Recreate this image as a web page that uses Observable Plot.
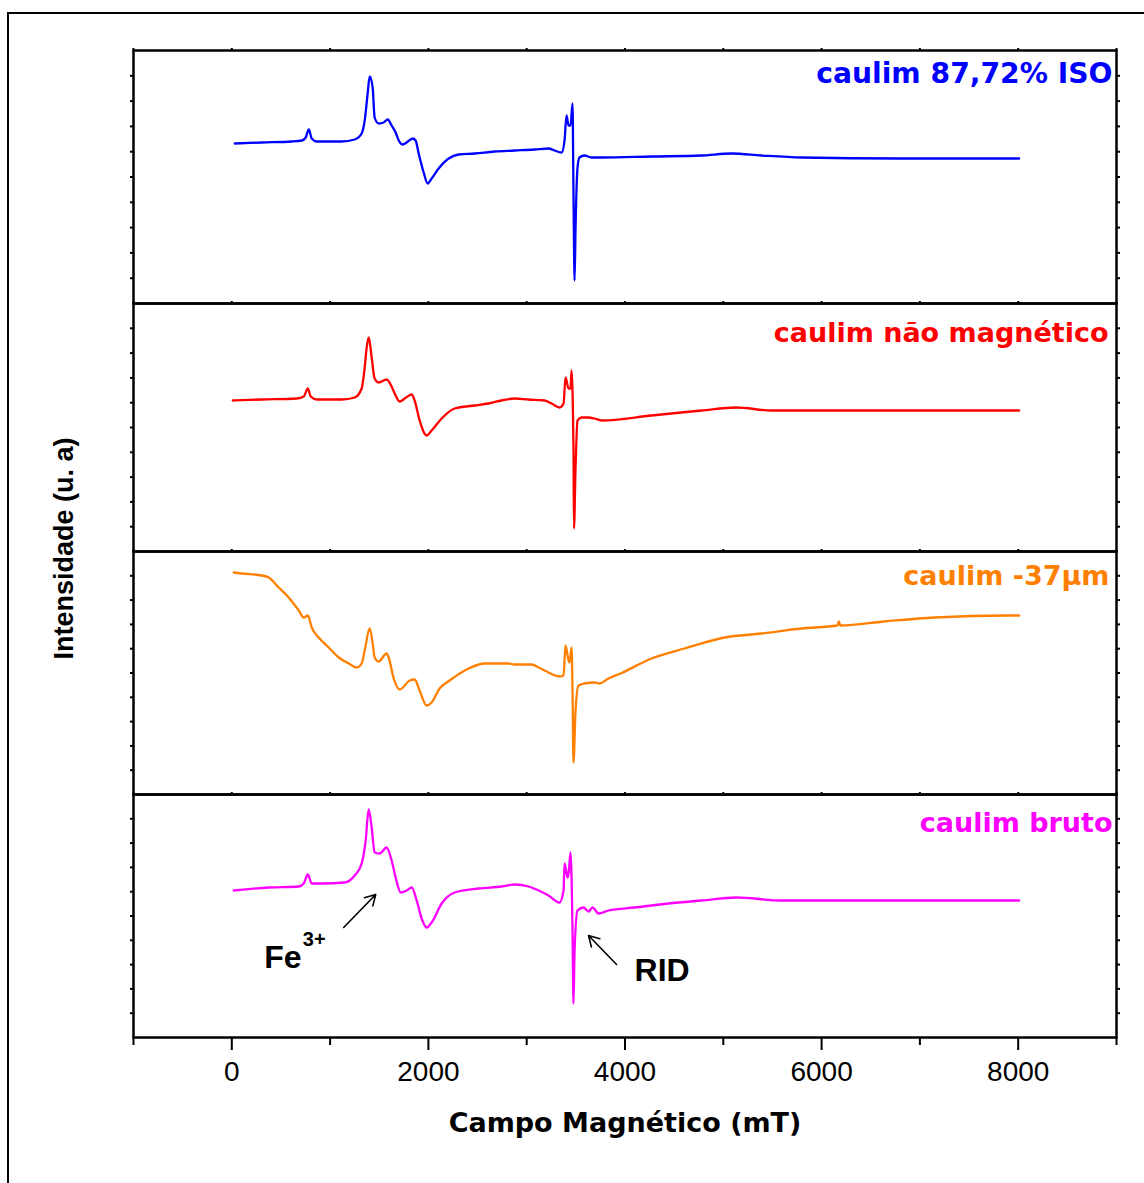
<!DOCTYPE html>
<html><head><meta charset="utf-8">
<script src="https://cdn.jsdelivr.net/npm/d3@7"></script>
<script src="https://cdn.jsdelivr.net/npm/@observablehq/plot@0.6"></script>
<style>
html,body{margin:0;padding:0;background:#fff;overflow:hidden}
#wrap{position:relative;width:1144px;height:1183px;overflow:hidden;background:#fff}
#outer{position:absolute;left:7px;top:12px;width:1400px;height:1400px;border-top:2.5px solid #000;border-left:2.5px solid #000;box-sizing:border-box}
#wrap svg{position:absolute;left:0}
</style></head><body><div id="wrap"><div id="outer"></div></div>
<script>
// Campo magnético (mT) vs intensidade (u. a.)
const seriesNames = ["caulim 87,72% ISO", "caulim não magnético", "caulim -37μm", "caulim bruto"];
const seriesColors = ["#0000ff", "#ff0000", "#ff8000", "#ff00ff"];

const isoData = [[30,160],[305,161],[610,162],[712,163],[752,166],[783,174],[813,165],[864,162],[1118,162],[1250,164],[1321,170],[1352,183],[1382,210],[1403,227],[1433,216],[1453,186],[1494,180],[1545,181],[1586,184],[1626,178],[1667,171],[1698,163],[1738,159],[1779,161],[1840,165],[1870,163],[1901,150],[1952,131],[1992,120],[2033,125],[2104,135],[2206,145],[2307,149],[2470,150],[2673,152],[2877,153],[3080,154],[3222,155],[3283,153],[3355,151],[3385,163],[3405,188],[3426,178],[3446,178],[3466,200],[3476,110],[3487,23],[3497,76],[3517,136],[3537,146],[3588,148],[3660,146],[3761,146],[4270,147],[4778,148],[5083,150],[5388,148],[5794,146],[6811,145],[8010,145]];

const naoMagData = [[10,151],[305,152],[661,153],[732,155],[773,163],[803,155],[864,152],[1118,152],[1250,154],[1321,163],[1352,184],[1372,204],[1393,214],[1423,194],[1453,173],[1494,169],[1575,172],[1626,165],[1657,158],[1708,150],[1759,153],[1830,157],[1860,151],[1911,131],[1982,116],[2033,121],[2135,133],[2267,143],[2470,146],[2612,148],[2745,151],[2877,153],[3019,152],[3182,151],[3253,148],[3334,144],[3375,148],[3395,174],[3426,163],[3446,163],[3456,181],[3476,101],[3481,23],[3497,84],[3517,131],[3558,134],[3629,134],[3690,133],[3761,131],[4270,136],[4778,141],[5134,144],[5489,141],[6811,141],[8010,141]];

const menos37Data = [[20,222],[102,221],[305,219],[376,217],[478,207],[579,197],[681,184],[732,177],[773,179],[813,167],[884,157],[986,147],[1088,137],[1189,131],[1271,127],[1321,131],[1352,144],[1403,166],[1433,151],[1453,137],[1494,133],[1575,141],[1596,137],[1647,116],[1708,105],[1810,114],[1860,115],[1911,104],[1982,89],[2033,92],[2114,106],[2216,114],[2389,125],[2572,131],[2816,131],[2877,130],[3050,130],[3121,127],[3182,124],[3334,118],[3375,119],[3395,149],[3426,134],[3436,132],[3456,147],[3466,104],[3476,32],[3497,84],[3527,109],[3588,111],[3690,112],[3741,111],[3832,116],[3954,121],[4270,136],[4605,146],[5012,157],[5388,161],[5794,166],[6160,169],[6175,173],[6190,169],[6639,173],[7150,177],[7899,179],[8010,179]];

const brutoData = [[20,147],[376,150],[681,151],[732,154],[773,163],[813,154],[915,154],[1149,155],[1250,162],[1321,174],[1362,197],[1392,228],[1423,210],[1453,185],[1504,184],[1575,190],[1626,177],[1667,160],[1718,145],[1779,147],[1830,150],[1881,137],[1931,119],[1982,110],[2033,115],[2135,134],[2267,145],[2511,149],[2745,151],[2877,153],[3019,151],[3121,147],[3222,142],[3334,135],[3375,147],[3385,174],[3416,160],[3426,164],[3446,185],[3466,107],[3476,34],[3487,87],[3517,127],[3578,130],[3629,126],[3670,130],[3731,124],[3832,127],[4097,130],[4442,134],[4778,137],[5134,140],[5591,137],[6811,137],[8010,137]];

const allSeries = [isoData, naoMagData, menos37Data, brutoData];

const xDomain = [-1000, 9000];
const xMajorTicks = [0, 2000, 4000, 6000, 8000];
const xMinorTicks = [-1000, 1000, 3000, 5000, 7000, 9000];
const xAllTicks = [-1000, 0, 1000, 2000, 3000, 4000, 5000, 6000, 7000, 8000, 9000];
const yDomainMax = [253, 248, 243, 243];

const xLabel = "Campo Magnético (mT)";
const yLabel = "Intensidade (u. a)";

// anotações no painel "caulim bruto"
const arrows = [
  {x1: 1138, y1: 110, x2: 1464, y2: 143},
  {x1: 3914, y1: 73, x2: 3629, y2: 102}
];
const notes = [
  {x: 330, y: 70, text: "Fe", size: 32},
  {x: 722, y: 92, text: "3+", size: 20},
  {x: 4097, y: 57, text: "RID", size: 32}
];

// layout
const W = 1144, L = 133, R = 1116;
const panelTop = [50, 303, 551, 794];
const pad = 6;
const labelDy = [32, 38, 33, 37];
const labelDx = [-4, -8, -7, -4];
const labelSize = [28.2, 27, 27, 27];

const wrap = document.getElementById("wrap");

allSeries.forEach((data, i) => {
  const last = i === allSeries.length - 1;
  const H = yDomainMax[i];
  const mb = last ? (1183 - 1037) : pad;
  const yTicks = d3.range(1, 10).map(k => k * H / 10);
  const marks = [
    Plot.line(data, {x: d => d[0], y: d => d[1], stroke: seriesColors[i], strokeWidth: 2.3, strokeLinejoin: "round", curve: "monotone-x"}),
    Plot.axisY({anchor: "left", ticks: yTicks, tickSize: 3, strokeWidth: 2, tickFormat: () => "", label: null}),
    Plot.axisY({anchor: "right", ticks: yTicks, tickSize: 3, strokeWidth: 2, tickFormat: () => "", label: null}),
    Plot.axisX({anchor: "top", ticks: xAllTicks, tickSize: 3, strokeWidth: 2, tickFormat: () => "", label: null}),
    Plot.frame({stroke: "black", strokeWidth: 2.5}),
    Plot.text([seriesNames[i]], {text: d => d, frameAnchor: "top-right", dx: labelDx[i], dy: labelDy[i], lineAnchor: "bottom", textAnchor: "end", fill: seriesColors[i], fontSize: labelSize[i], fontWeight: "bold", fontFamily: "DejaVu Sans"})
  ];
  if (i === 2) {
    marks.push(Plot.text([yLabel], {text: d => d, frameAnchor: "top-left", dx: 64 - L, dy: -3, rotate: -90, textAnchor: "middle", lineAnchor: "middle", fontSize: 27, fontWeight: "bold", fontFamily: "Liberation Sans", fill: "black"}));
  }
  if (last) {
    marks.push(
      Plot.axisX({anchor: "bottom", ticks: xMajorTicks, tickSize: 13, tickPadding: 11, strokeWidth: 2, fontSize: 28, tickFormat: d => String(d), label: null}),
      Plot.axisX({anchor: "bottom", ticks: xMinorTicks, tickSize: 8, strokeWidth: 2, tickFormat: () => "", label: null}),
      Plot.text([xLabel], {text: d => d, frameAnchor: "bottom", dy: 86, lineAnchor: "middle", fontSize: 27, fontWeight: "bold", fontFamily: "DejaVu Sans", fill: "black"}),
      Plot.arrow(arrows, {x1: "x1", y1: "y1", x2: "x2", y2: "y2", stroke: "black", strokeWidth: 1.6, headLength: 11, bend: 0}),
      Plot.text(notes, {x: "x", y: "y", text: "text", fontSize: d => d.size, textAnchor: "start", lineAnchor: "bottom", fontWeight: "bold", fontFamily: "Liberation Sans", fill: "black"})
    );
  }
  const svg = Plot.plot({
    width: W,
    height: H + pad + mb,
    marginLeft: L,
    marginRight: W - R,
    marginTop: pad,
    marginBottom: mb,
    x: {domain: xDomain},
    y: {domain: [0, H]},
    style: {background: "transparent", overflow: "visible", fontFamily: "Liberation Sans", color: "black"},
    marks
  });
  svg.style.top = (panelTop[i] - pad) + "px";
  wrap.appendChild(svg);
});
</script></body></html>
